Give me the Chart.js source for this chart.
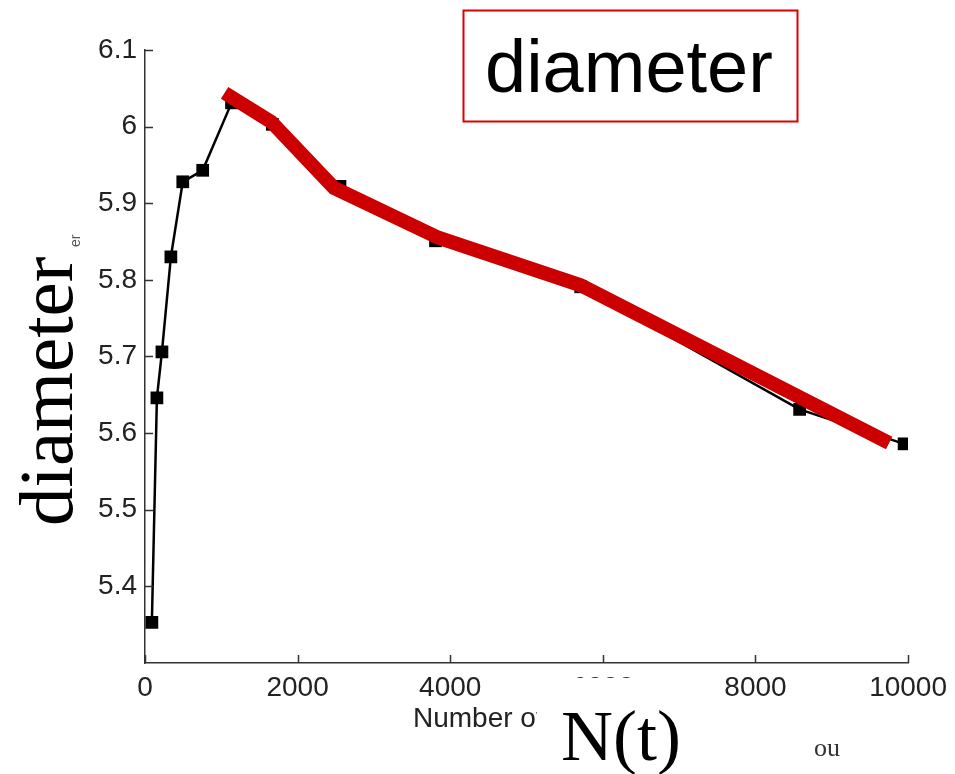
<!DOCTYPE html>
<html>
<head>
<meta charset="utf-8">
<script src="https://cdn.jsdelivr.net/npm/chart.js@4/dist/chart.umd.min.js"></script>
<style>
  body { margin: 0; background: #fff; }
  canvas { display: block; }
</style>
</head>
<body>
<canvas id="myChart" width="955" height="774"></canvas>
<script>
// measured diameter vs number of nodes N(t)
const nValues = [90, 156, 222, 339, 495, 756, 1134, 1669, 2555, 3807, 5710, 8579, 9948]
const diameterValues = [5.353, 5.646, 5.706, 5.830, 5.928, 5.943, 6.031, 6.003, 5.922, 5.851, 5.791, 5.631, 5.586]

// hand-drawn trend over the decreasing part
const fitN = [1043, 1656, 2477, 3846, 5710, 9752]
const fitValues = [6.044, 6.006, 5.920, 5.855, 5.793, 5.587]

const xTicks = [0, 2000, 4000, 6000, 8000, 10000]
const yTicks = [5.4, 5.5, 5.6, 5.7, 5.8, 5.9, 6, 6.1]

function toPoints(xs, ys) {
    return xs.map((x, i) => ({ x: x, y: ys[i] }))
}

// white page, inward tick marks and the slide annotations
const annotations = {
    id: 'annotations',
    beforeDraw(chart) {
        const ctx = chart.ctx
        ctx.save()
        ctx.fillStyle = '#fff'
        ctx.fillRect(0, 0, chart.width, chart.height)
        ctx.restore()
    },
    afterDraw(chart) {
        const ctx = chart.ctx
        const area = chart.chartArea
        const xs = chart.scales.x
        const ys = chart.scales.y
        ctx.save()

        // ticks pointing into the plot
        ctx.strokeStyle = '#333'
        ctx.lineWidth = 1.5
        ctx.beginPath()
        yTicks.forEach(v => {
            const py = Math.round(ys.getPixelForValue(v)) + 0.5
            ctx.moveTo(area.left, py)
            ctx.lineTo(area.left + 8, py)
        })
        xTicks.forEach(v => {
            const px = Math.round(xs.getPixelForValue(v)) + 0.5
            ctx.moveTo(px, area.bottom)
            ctx.lineTo(px, area.bottom - 8)
        })
        ctx.stroke()

        // original small axis titles
        ctx.fillStyle = '#222'
        ctx.font = '28px "Liberation Sans", Arial, sans-serif'
        ctx.textBaseline = 'alphabetic'
        ctx.textAlign = 'left'
        ctx.fillText('Number of', 413, 727)

        ctx.save()
        ctx.translate(80, 247)
        ctx.rotate(-Math.PI / 2)
        ctx.font = '14px "Liberation Sans", Arial, sans-serif'
        ctx.fillStyle = '#555'
        ctx.fillText('er', 0, 0)
        ctx.restore()

        // white label patch over the x axis title
        ctx.fillStyle = '#fff'
        ctx.fillRect(537, 678, 166, 96)

        ctx.fillStyle = '#000'
        ctx.font = '72px "Liberation Serif", "Times New Roman", serif'
        ctx.fillText('N(t)', 561, 760)

        ctx.font = '26px "Liberation Serif", "Times New Roman", serif'
        ctx.fillStyle = '#333'
        ctx.fillText('ou', 814, 756)

        // big rotated y title
        ctx.save()
        ctx.translate(72, 526)
        ctx.rotate(-Math.PI / 2)
        ctx.fillStyle = '#000'
        ctx.font = '77px "Liberation Serif", "Times New Roman", serif'
        ctx.fillText('diameter', 0, 0)
        ctx.restore()

        // boxed heading
        ctx.strokeStyle = '#dd0000'
        ctx.lineWidth = 2
        ctx.strokeRect(463.5, 10.5, 334, 111)
        ctx.fillStyle = '#000'
        ctx.font = '74px "Liberation Sans", Arial, sans-serif'
        ctx.fillText('diameter', 485, 92)

        ctx.restore()
    }
}

function render_chart() {
    const data = {
        datasets: [
            {
                label: 'trend',
                data: toPoints(fitN, fitValues),
                borderColor: '#cc0000',
                borderWidth: 14,
                borderCapStyle: 'butt',
                borderJoinStyle: 'miter',
                pointRadius: 0,
                tension: 0,
            },
            {
                label: 'diameter',
                data: toPoints(nValues, diameterValues),
                borderColor: '#000',
                backgroundColor: '#000',
                borderWidth: 2.5,
                pointStyle: 'rect',
                pointRadius: 9,
                pointBorderWidth: 0,
                tension: 0,
            },
        ],
    }

    const config = {
        type: 'line',
        data: data,
        plugins: [annotations],
        options: {
            responsive: false,
            animation: false,
            layout: { padding: { top: 50, right: 43, left: 0, bottom: 0 } },
            plugins: {
                legend: { display: false },
                tooltip: { enabled: false },
            },
            scales: {
                x: {
                    type: 'linear',
                    min: 0,
                    max: 10000,
                    afterBuildTicks: axis => { axis.ticks = xTicks.map(v => ({ value: v })) },
                    afterFit: axis => { axis.height = 111 },
                    grid: { drawOnChartArea: false, drawTicks: false },
                    border: { color: '#333', width: 1.5 },
                    ticks: {
                        padding: 8,
                        color: '#222',
                        maxRotation: 0,
                        font: { family: '"Liberation Sans", Arial, sans-serif', size: 28 },
                        callback: v => String(v),
                    },
                },
                y: {
                    type: 'linear',
                    min: 5.3,
                    max: 6.1,
                    afterBuildTicks: axis => { axis.ticks = yTicks.map(v => ({ value: v })) },
                    afterFit: axis => { axis.width = 145 },
                    grid: { drawOnChartArea: false, drawTicks: false },
                    border: { color: '#333', width: 1.5 },
                    ticks: {
                        padding: 8,
                        color: '#222',
                        font: { family: '"Liberation Sans", Arial, sans-serif', size: 28 },
                        callback: v => String(Math.round(v * 10) / 10),
                    },
                },
            },
        },
    }

    const myChart = new Chart(document.getElementById('myChart'), config)
}

document.addEventListener('DOMContentLoaded', render_chart)
</script>
</body>
</html>
